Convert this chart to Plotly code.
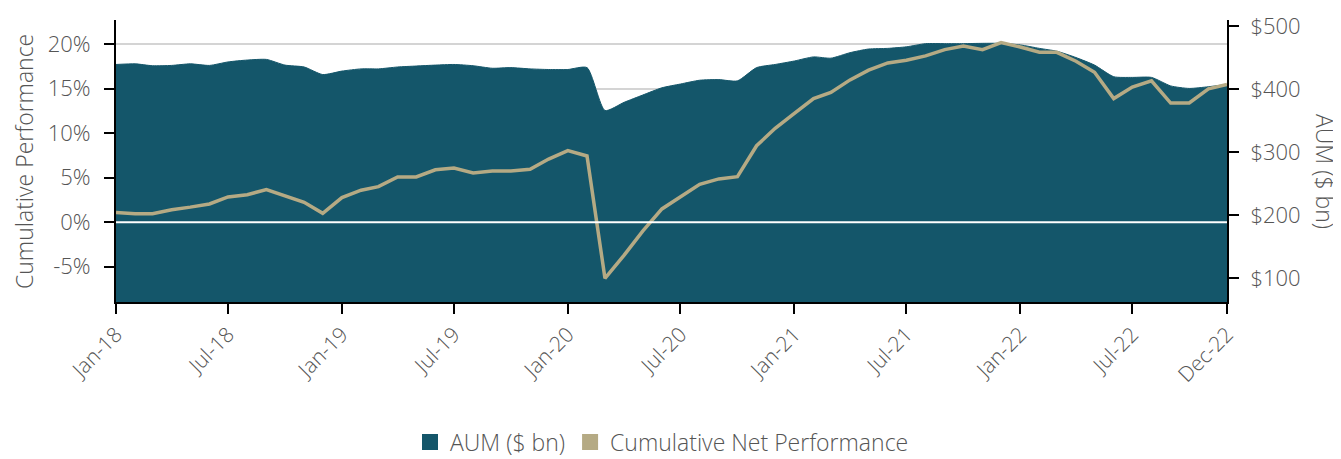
import pandas as pd
import plotly.graph_objects as go

# ---- data ----
months = pd.date_range("2018-01-01", "2022-12-01", freq="MS")

aum_bn = [439, 440, 437, 437.5, 440, 437.5, 443, 446, 447, 438,
          435, 423, 428.5, 432, 432, 435, 436.5, 438, 439, 437,
          433, 434, 432, 431, 431, 434, 366, 379, 390.5, 402,
          408, 414, 415, 413, 434, 439, 444.5, 451, 449, 457.7,
          463.5, 464.5, 467, 472, 472, 472, 472.5, 472.5, 470, 464.5,
          460, 450, 438, 419.6, 418.5, 418.5, 405, 401, 403.7, 407.4]

cum_perf = [1.1, 0.97, 0.97, 1.4, 1.7, 2.06, 2.85, 3.1, 3.67, 3.0,
            2.25, 1.0, 2.77, 3.6, 4.0, 5.1, 5.1, 5.9, 6.1, 5.55,
            5.77, 5.77, 5.95, 7.1, 8.05, 7.45, -6.3, -3.7, -1.0, 1.5,
            2.9, 4.27, 4.87, 5.13, 8.6, 10.56, 12.25, 13.9, 14.6, 16.0,
            17.1, 17.9, 18.2, 18.7, 19.4, 19.8, 19.4, 20.2, 19.7, 19.1,
            19.1, 18.1, 16.85, 13.9, 15.2, 15.9, 13.4, 13.4, 15.0, 15.5]

tick_dates = ["2018-01-01", "2018-07-01", "2019-01-01", "2019-07-01", "2020-01-01",
              "2020-07-01", "2021-01-01", "2021-07-01", "2022-01-01", "2022-07-01",
              "2022-12-01"]
tick_labels = ["Jan-18", "Jul-18", "Jan-19", "Jul-19", "Jan-20", "Jul-20",
               "Jan-21", "Jul-21", "Jan-22", "Jul-22", "Dec-22"]

perf_ticks = [-5, 0, 5, 10, 15, 20]
perf_labels = ["-5%", "0%", "5%", "10%", "15%", "20%"]
aum_ticks = [100, 200, 300, 400, 500]
aum_labels = ["$100", "$200", "$300", "$400", "$500"]

AUM_COLOR = "#14566a"
PERF_COLOR = "#b5aa84"
TEXT = "#555555"
FONT = "Open Sans"
FS = 22      # tick labels
FT = 23      # titles / legend

# page geometry (pixels); the page body adds an 8px offset
OFF = 8
W, H = 1341 - OFF, 459
L, R, T, B = 116 - OFF, 1227 - OFF, 20 - OFF, 302 - OFF

fig = go.Figure()

fig.add_trace(go.Scatter(
    x=months, y=aum_bn, yaxis="y", fill="tozeroy", mode="lines",
    line=dict(color=AUM_COLOR, width=1, shape="spline", smoothing=0.6),
    fillcolor=AUM_COLOR, showlegend=False, name="AUM ($ bn)"))

fig.add_trace(go.Scatter(
    x=months, y=cum_perf, yaxis="y2", mode="lines",
    line=dict(color=PERF_COLOR, width=3.5), showlegend=False,
    name="Cumulative Net Performance"))

# legend entries (square swatches)
fig.add_trace(go.Scatter(x=[None], y=[None], mode="markers", name="AUM ($ bn)",
                         marker=dict(symbol="square", size=20, color=AUM_COLOR)))
fig.add_trace(go.Scatter(x=[None], y=[None], mode="markers", name="Cumulative Net Performance",
                         marker=dict(symbol="square", size=20, color=PERF_COLOR)))

axis_common = dict(showline=True, linecolor="black", linewidth=2,
                   ticks="outside", ticklen=10, tickwidth=2, tickcolor="black",
                   zeroline=False, automargin=False)

fig.update_layout(
    width=W, height=H,
    margin=dict(l=L, r=W - R, t=T, b=H - B, autoexpand=False),
    paper_bgcolor="white", plot_bgcolor="white",
    font=dict(family=FONT, size=FS, color=TEXT, weight=300),
    xaxis=dict(
        type="date", range=["2018-01-01", "2022-12-01"],
        tickvals=tick_dates, ticktext=tick_labels, tickangle=-45,
        showgrid=False, tickfont=dict(size=FS - 1, color=TEXT), **axis_common),
    yaxis=dict(
        side="right", range=[62.4, 509.5],
        tickvals=aum_ticks, ticktext=aum_labels, ticklabelstandoff=7,
        showgrid=False, tickfont=dict(size=FS, color=TEXT), **axis_common),
    yaxis2=dict(
        side="left", overlaying="y", range=[-8.96, 22.73],
        tickvals=perf_ticks, ticktext=perf_labels, ticklabelstandoff=9,
        showgrid=True, gridcolor="#d4d4d4", gridwidth=2,
        tickfont=dict(size=FS, color=TEXT), **axis_common),
    legend=dict(orientation="h", x=(662 - OFF - L) / (R - L), xanchor="center",
                y=-(442 - OFF - B) / (B - T), yanchor="middle",
                font=dict(size=FT, color=TEXT), itemsizing="trace"),
    shapes=[dict(type="line", xref="paper", x0=0, x1=1, yref="y2", y0=0, y1=0,
                 line=dict(color="white", width=2), layer="above")],
    annotations=[
        dict(text="Cumulative Performance", textangle=-90, xref="paper", yref="paper",
             x=-(L - (24 - OFF)) / (R - L), y=(B - (162 - OFF)) / (B - T),
             xanchor="center", yanchor="middle", showarrow=False,
             font=dict(size=FT, color=TEXT)),
        dict(text="AUM ($ bn)", textangle=90, xref="paper", yref="paper",
             x=1.0 + ((1325 - OFF) - R) / (R - L), y=(B - (171 - OFF)) / (B - T),
             xanchor="center", yanchor="middle", showarrow=False,
             font=dict(size=FT, color=TEXT))],
)

fig.write_html("out.html")
